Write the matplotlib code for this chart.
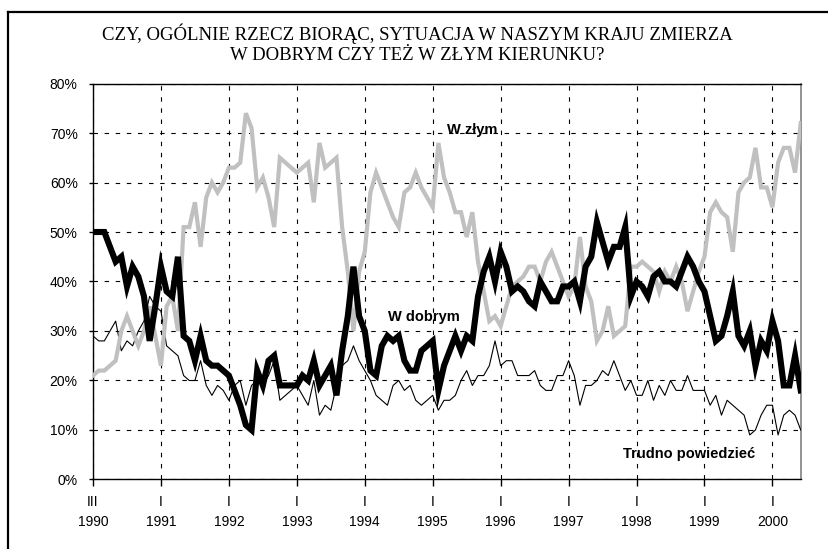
import matplotlib
matplotlib.use('Agg')
import matplotlib.pyplot as plt
from matplotlib.lines import Line2D

# CBOS: direction of the country, monthly from III 1990
dobrym = [50, 50, 50, 47, 44, 45, 39, 43, 41, 37, 28, 35, 43, 38, 37, 45, 29, 28, 24, 29,
          24, 23, 23, 22, 21, 18, 15, 11, 10, 22, 19, 24, 25, 19, 19, 19, 19, 21, 20, 24,
          19, 21, 23, 17, 26, 33, 43, 33, 30, 22, 21, 27, 29, 28, 29, 24, 22, 22, 26, 27,
          28, 18, 23, 26, 29, 26, 29, 28, 37, 42, 45, 40, 46, 43, 38, 39, 38, 36, 35, 40,
          38, 36, 36, 39, 39, 40, 36, 43, 45, 52, 48, 44, 47, 47, 51, 37, 40, 39, 37, 41,
          42, 40, 40, 39, 42, 45, 43, 40, 38, 33, 28, 29, 33, 38, 29, 27, 30, 23, 28, 26,
          32, 28, 19, 19, 25, 18]
zlym = [21, 22, 22, 23, 24, 30, 33, 30, 27, 30, 35, 29, 23, 35, 37, 30, 51, 51, 56, 47,
        57, 60, 58, 60, 63, 63, 64, 74, 71, 59, 61, 57, 51, 65, 64, 63, 62, 63, 64, 56,
        68, 63, 64, 65, 51, 42, 30, 42, 46, 58, 62, 59, 56, 53, 51, 58, 59, 62, 59, 57,
        55, 68, 61, 58, 54, 54, 49, 54, 44, 38, 32, 33, 31, 35, 39, 40, 41, 43, 43, 40,
        44, 46, 43, 40, 37, 39, 49, 39, 36, 28, 30, 35, 29, 30, 31, 43, 43, 44, 43, 42,
        38, 42, 40, 43, 40, 34, 38, 42, 45, 54, 56, 54, 53, 46, 58, 60, 61, 67, 59, 59,
        55, 64, 67, 67, 62, 72]
trudno = [29, 28, 28, 30, 32, 26, 28, 27, 30, 32, 37, 35, 34, 27, 26, 25, 21, 20, 20, 24,
          19, 17, 19, 18, 16, 19, 20, 15, 19, 20, 19, 21, 24, 16, 17, 18, 19, 17, 15, 20,
          13, 15, 14, 19, 23, 24, 27, 24, 22, 20, 17, 16, 15, 19, 20, 18, 19, 16, 15, 16,
          17, 14, 16, 16, 17, 20, 22, 19, 21, 21, 23, 28, 23, 24, 24, 21, 21, 21, 22, 19,
          18, 18, 21, 21, 24, 21, 15, 19, 19, 20, 22, 21, 24, 21, 18, 20, 17, 17, 20, 16,
          19, 17, 20, 18, 18, 21, 18, 18, 18, 15, 17, 13, 16, 15, 14, 13, 9, 10, 13, 15,
          15, 9, 13, 14, 13, 10]

years = ['1990', '1991', '1992', '1993', '1994', '1995', '1996', '1997', '1998', '1999', '2000']
months = ['III'] + ['I'] * 10
year_idx = [12 * i for i in range(len(years))]

fig = plt.figure(figsize=(8.29, 5.49), dpi=100)
ax = fig.add_axes([0.1122, 0.1266, 0.8537, 0.7213])

x = list(range(len(dobrym)))
ax.plot(x, trudno, color='black', lw=0.8, zorder=3)
ax.plot(x, zlym, color='#c0c0c0', lw=3.0, zorder=4, solid_joinstyle='miter')
ax.plot(x, dobrym, color='black', lw=4.4, zorder=5, solid_joinstyle='miter')

ax.set_xlim(0, len(dobrym) - 1)
ax.set_ylim(0, 80)
ax.set_yticks(range(0, 81, 10))
ax.set_yticklabels(['%d%%' % v for v in range(0, 81, 10)], fontsize=10, family='Liberation Sans')
ax.set_xticks(year_idx)
ax.set_xticklabels(['%s\n%s' % (m, y) for m, y in zip(months, years)],
                   fontsize=10, family='Liberation Sans', linespacing=1.6)
ax.tick_params(axis='x', direction='out', length=5, width=1, pad=6)
ax.tick_params(axis='y', direction='out', length=3, width=1, pad=8)

ax.grid(True, color='black', linestyle=(0, (4, 6)), linewidth=0.8)
for s in ['left', 'top', 'bottom']:
    ax.spines[s].set_color('black')
    ax.spines[s].set_linewidth(1.0)
ax.spines['right'].set_color('#808080')
ax.spines['right'].set_linewidth(1.2)

ax.text(67, 70.6, 'W złym', fontsize=10.5, fontweight='bold', family='Liberation Sans',
        ha='center', va='center', zorder=6)
ax.text(58.5, 32.8, 'W dobrym', fontsize=10.5, fontweight='bold', family='Liberation Sans',
        ha='center', va='center', zorder=6)
ax.text(105.3, 5.2, 'Trudno powiedzieć', fontsize=10.5, fontweight='bold', family='Liberation Sans',
        ha='center', va='center', zorder=6)

fig.text(0.503, 1 - 34 / 549, 'CZY, OGÓLNIE RZECZ BIORĄC, SYTUACJA W NASZYM KRAJU ZMIERZA',
         ha='center', va='center', fontsize=13.5, family='Liberation Serif')
fig.text(0.503, 1 - 56 / 549, 'W DOBRYM CZY TEŻ W ZŁYM KIERUNKU?',
         ha='center', va='center', fontsize=13.5, family='Liberation Serif')

# outer frame (top and left edges visible)
fig.add_artist(Line2D([8 / 829, 1.0], [1 - 12 / 549, 1 - 12 / 549], color='black', lw=1.6,
                      transform=fig.transFigure))
fig.add_artist(Line2D([8 / 829, 8 / 829], [0, 1 - 12 / 549], color='black', lw=1.6,
                      transform=fig.transFigure))

fig.savefig('out.png', dpi=100)
